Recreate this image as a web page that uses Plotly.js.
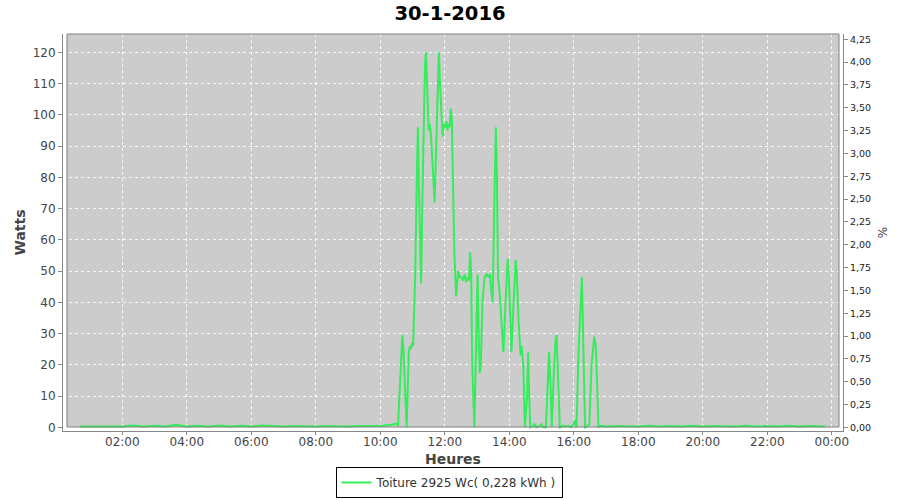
<!DOCTYPE html>
<html>
<head>
<meta charset="utf-8">
<script src="https://cdn.plot.ly/plotly-3.0.1.min.js"></script>
<style>html,body{margin:0;padding:0;background:#fff;}#chart{width:900px;height:500px;}</style>
</head>
<body>
<div id="chart"></div>
<script>
// ---- data (time of day, watts) ----
const day = '2016-01-30';
const times = [
  '00:41','01:00','01:20','01:40','02:00','02:20','02:40','03:00','03:20','03:40',
  '04:00','04:20','04:40','05:00','05:20','05:40','06:00','06:20','06:40','07:00',
  '07:20','07:40','08:00','08:20','08:40','09:00','09:20','09:40','10:00','10:20',
  '10:30','10:33','10:37','10:41','10:43','10:46','10:49','10:53','10:55','10:57',
  '10:59','11:01','11:05','11:08','11:10','11:12','11:14','11:16','11:18','11:21',
  '11:23','11:25','11:27','11:30','11:32','11:34','11:37','11:41','11:44','11:47',
  '11:49','11:51','11:56','11:58','12:01','12:03','12:05','12:07','12:09','12:11',
  '12:13','12:15','12:18','12:21','12:23','12:25','12:28','12:31','12:34','12:37',
  '12:40','12:43','12:45','12:47','12:49','12:51','12:55','12:58','13:01','13:03',
  '13:05','13:07','13:10','13:14','13:18','13:21','13:24','13:27','13:29','13:32',
  '13:35','13:37','13:39','13:42','13:45','13:49','13:53','13:57','13:59','14:02',
  '14:04','14:08','14:12','14:14','14:17','14:21','14:23','14:26','14:29','14:33',
  '14:35','14:37','14:39','14:44','14:47','14:50','14:58','15:00','15:03','15:08',
  '15:11','15:14','15:17','15:19','15:23','15:26','15:28','15:31','15:34','15:40',
  '15:45','15:50','15:55','16:00','16:02','16:05','16:09','16:15','16:18','16:21',
  '16:26','16:29','16:33','16:38','16:41','16:43','16:46','16:50','17:00','17:20',
  '17:40','18:00','18:20','18:40','19:00','19:20','19:40','20:00','20:20','20:40',
  '21:00','21:20','21:40','22:00','22:20','22:40','23:00','23:20','23:47'
];
const watts = [
  0.3,0.3,0.5,0.3,0.3,0.6,0.3,0.5,0.3,0.8,
  0.3,0.5,0.3,0.6,0.3,0.5,0.3,0.6,0.4,0.3,
  0.4,0.3,0.3,0.4,0.3,0.3,0.4,0.3,0.4,0.8,
  1.2,0.5,15,29.5,25,10,0,24,26,25,
  27,26,49,80,96,75,60,46,70,100,
  115,120,108,95,97,94,85,72,90,112,
  120,110,93,97,96,98,95,97,96,102,
  99,80,55,42,48,50,48,48,47,49,
  46.5,48,47,56,50,20,0,25,49,30,
  17.4,20,40,48,49,48,49,43,40,70,
  96,80,48,43,35,24,40,54,49,35,
  24,40,53.5,49,35,23,26,20,0,10,
  24,10,0,0.5,1,0,0.5,1,0,0,
  15,24,12,0,18,28,29.5,15,0,0.5,
  0.3,0.5,0,1,2.3,0,25,48,20,0,
  0.5,1,20,29,26,15,0,0.5,0.3,0.4,
  0.3,0.3,0.5,0.3,0.4,0.3,0.5,0.3,0.4,0.3,
  0.3,0.5,0.3,0.4,0.3,0.5,0.3,0.4,0.3
];
const seriesName = 'Toiture 2925 Wc( 0,228 kWh )';
const chartTitle = '30-1-2016';
const xTitle = 'Heures';
const yTitle = 'Watts';
const y2Title = '%';

const xs = times.map(t => day + ' ' + t);

const FONT = 'DejaVu Sans, Verdana, sans-serif';
const GRID = 'rgba(255,255,255,0.85)';
const AXC = '#888888';

const traces = [
  {
    type: 'scatter', mode: 'lines', name: seriesName,
    x: xs, y: watts,
    line: {color: '#33ee5a', width: 2},
    hoverinfo: 'x+y'
  },
  {
    type: 'scatter', mode: 'lines', x: [], y: [], yaxis: 'y2',
    showlegend: false, hoverinfo: 'skip'
  }
];

const layout = {
  width: 900, height: 500,
  margin: {l: 63, r: 57, t: 34, b: 69, pad: 0, autoexpand: false},
  paper_bgcolor: '#ffffff',
  plot_bgcolor: '#ffffff',
  separators: ',.',
  font: {family: FONT, color: '#444444', size: 12},
  title: {
    text: '<b>' + chartTitle + '</b>',
    font: {family: FONT, size: 19.5, color: '#000000'},
    x: 0.5, xref: 'container', xanchor: 'center',
    y: 0.973, yref: 'container', yanchor: 'middle'
  },
  xaxis: {
    type: 'date',
    range: ['2016-01-30 00:09:40', '2016-01-31 00:20:50'],
    tick0: '2016-01-30 00:00', dtick: 7200000,
    tickformat: '%H:%M',
    showline: true, linecolor: AXC, linewidth: 1,
    ticks: 'outside', ticklen: 3, tickcolor: AXC,
    ticklabelstandoff: -3,
    showgrid: true, gridcolor: GRID, gridwidth: 1, griddash: '3px,3px',
    zeroline: false,
    tickfont: {family: FONT, size: 12, color: '#444444'},
    title: {text: '<b>' + xTitle + '</b>', font: {family: FONT, size: 14, color: '#444444'}, standoff: 5}
  },
  yaxis: {
    range: [-1.18, 125.86],
    tick0: 0, dtick: 10,
    showline: true, linecolor: AXC, linewidth: 1,
    ticks: 'outside', ticklen: 4, tickcolor: AXC,
    showgrid: true, gridcolor: GRID, gridwidth: 1, griddash: '3px,3px',
    zeroline: false,
    tickfont: {family: FONT, size: 12, color: '#444444'},
    title: {text: '<b>' + yTitle + '</b>', font: {family: FONT, size: 14, color: '#444444'}, standoff: 3}
  },
  yaxis2: {
    overlaying: 'y', side: 'right',
    range: [-0.0405, 4.308],
    tick0: 0, dtick: 0.25, tickformat: '.2f',
    showline: true, linecolor: AXC, linewidth: 1,
    ticks: 'outside', ticklen: 4, tickcolor: AXC,
    showgrid: false, zeroline: false,
    tickfont: {family: FONT, size: 9.5, color: '#222222'},
    title: {text: y2Title, font: {family: FONT, size: 12, color: '#444444'}, standoff: 8}
  },
  shapes: [
    {type: 'rect', xref: 'paper', yref: 'paper', layer: 'below',
     x0: 4/780, x1: 776/780, y0: 4/397, y1: 1,
     fillcolor: '#cccccc', line: {width: 0}},
    {type: 'rect', xref: 'paper', yref: 'paper', layer: 'above',
     x0: 4/780, x1: 776/780, y0: 4/397, y1: 1,
     fillcolor: 'rgba(0,0,0,0)', line: {color: '#808080', width: 1}}
  ],
  showlegend: true,
  legend: {
    orientation: 'h',
    x: 0.499, xanchor: 'center', xref: 'container',
    y: 0.004, yanchor: 'bottom', yref: 'container',
    bgcolor: '#ffffff', bordercolor: '#000000', borderwidth: 1,
    font: {family: FONT, size: 12, color: '#333333'},
    itemwidth: 30, tracegroupgap: 0
  }
};

Plotly.newPlot('chart', traces, layout, {displayModeBar: false, staticPlot: true});
</script>
</body>
</html>
